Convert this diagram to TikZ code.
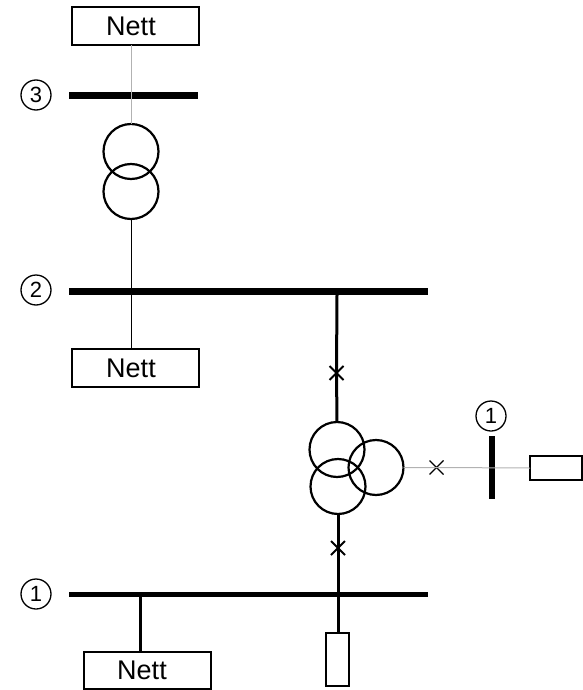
\documentclass[tikz,border=0pt]{standalone}
\usepackage{fontspec}
\setmainfont{Liberation Sans}
\usetikzlibrary{shapes.misc}
\tikzset{
  bus/.style = {
    fill=black,
    inner sep=0pt,
    outer sep=0pt
  },
  winding/.style = {
    circle,
    draw,
    line width=2.2pt,
    minimum size=55pt,
    inner sep=0pt,
    outer sep=0pt
  },
  grid box/.style = {
    draw,
    line width=1.5pt,
    inner sep=0pt,
    outer sep=0pt,
    font={\fontsize{27}{30}\selectfont}
  },
  busmark/.style = {
    circle,
    draw,
    line width=1.3pt,
    minimum size=30pt,
    inner sep=0pt,
    font={\fontsize{22}{25}\selectfont}
  },
  breaker/.style = {
    cross out,
    draw,
    minimum size=14pt,
    inner sep=0pt,
    outer sep=0pt
  },
  thinlink/.style = {
    line width=1pt,
    black!30
  },
  feeder/.style = {
    line width=1pt
  },
  heavylink/.style = {
    line width=3pt
  },
}

\begin{document}
\begin{tikzpicture}[x=1pt,y=-1pt]
  \useasboundingbox (0,0) rectangle (583,690);

  % busbars
  \foreach \busname/\xmid/\ymid/\busw/\bush in {
    bus3/133.5/95.5/129/6.5,
    bus2/248.5/291.5/359/6.5,
    bus1/248.5/594/359/5,
    busaux/492/467.5/6.5/63
  } {
    \node[bus,minimum width=\busw pt,minimum height=\bush pt] (\busname) at (\xmid,\ymid) {};
  }
  \coordinate (tap1) at (140,594);

  % level marks
  \foreach \markname/\xmid/\ymid/\marktext in {
    mark3/36/95/3,
    mark2/36/290/2,
    mark1/36/594/1,
    markaux/491/416/1
  } {
    \node[busmark] (\markname) at (\xmid,\ymid) {\marktext};
  }

  % boxes
  \node[grid box,minimum width=127pt,minimum height=38pt] (nett3) at (135.5,26) {Nett\kern9pt};
  \node[grid box,minimum width=127pt,minimum height=38pt] (nett2) at (135.5,368) {Nett\kern9pt};
  \node[grid box,minimum width=127pt,minimum height=37pt] (nett1) at (147.5,670.5) {Nett\kern11pt};
  \node[grid box,minimum width=23pt,minimum height=53pt] (load1) at (337.5,659.5) {};
  \node[grid box,minimum width=52pt,minimum height=24pt] (loadaux) at (556,468) {};

  % transformers
  \foreach \windname/\xmid/\ymid in {
    upperhv/131/151.5,
    upperlv/131/191.5,
    mainhv/337/449.5,
    mainlv/338/486.5,
    mainaux/376/467.5
  } {
    \node[winding] (\windname) at (\xmid,\ymid) {};
  }

  % breakers
  \node[breaker,line width=2pt] (breakhv) at (336.5,373) {};
  \node[breaker,line width=2pt] (breaklv) at (338,548) {};
  \node[breaker,line width=1.3pt] (breakaux) at (436.5,467.5) {};

  % connections
  \draw[thinlink] (upperhv.north |- nett3.south) -- (upperhv.north);
  \draw[feeder] (upperlv.south) -- (upperlv.south |- nett2.north);
  \draw[heavylink] (mainhv.north |- bus2.south) -- (breakhv.center) -- (mainhv.north);
  \draw[heavylink] (mainlv.south) -- (breaklv.center) -- (mainlv.south |- load1.north);
  \draw[heavylink] (tap1) -- (tap1 |- nett1.north);
  \draw[thinlink] (mainaux.east) -- (breakaux.center) -- (loadaux.west);

\end{tikzpicture}
\end{document}
